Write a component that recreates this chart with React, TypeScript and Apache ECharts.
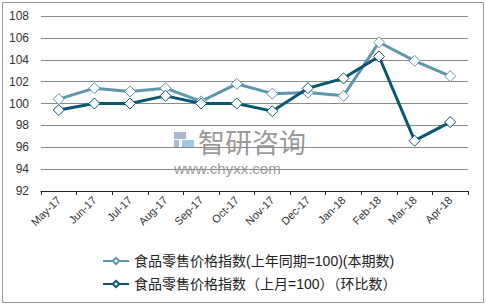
import React, { useEffect, useRef } from "react";
import * as echarts from "echarts";

const categories = ["May-17", "Jun-17", "Jul-17", "Aug-17", "Sep-17", "Oct-17", "Nov-17", "Dec-17", "Jan-18", "Feb-18", "Mar-18", "Apr-18"];
const yoyValues = [100.4, 101.4, 101.1, 101.4, 100.2, 101.8, 100.9, 101.0, 100.7, 105.6, 103.9, 102.5];
const momValues = [99.4, 100.0, 100.0, 100.7, 100.0, 100.0, 99.3, 101.4, 102.3, 104.3, 96.6, 98.3];
const seriesNames = ["食品零售价格指数(上年同期=100)(本期数)", "食品零售价格指数（上月=100）（环比数）"];
const yTicks = { min: 92, max: 108, interval: 2 };

export default function App() {
  const ref = useRef<HTMLDivElement>(null);
  useEffect(() => {
    const chart = echarts.init(ref.current!, null, { renderer: "svg" });
    const font = "'Liberation Sans', Arial, 'Noto Sans CJK SC', sans-serif";
    chart.setOption({
      animation: false,
      backgroundColor: "#ffffff",
      textStyle: { fontFamily: font },
      grid: { left: 41, right: 18, top: 16, bottom: 114 },
      legend: {
        orient: "vertical",
        left: 97,
        top: 249,
        itemGap: 9,
        itemWidth: 26,
        itemHeight: 8,
        textStyle: { fontSize: 14, color: "#222", fontFamily: font },
        data: seriesNames,
      },
      xAxis: {
        type: "category",
        data: categories,
        boundaryGap: true,
        axisLine: { lineStyle: { color: "#222", width: 1 } },
        axisTick: { show: true, inside: false, length: 4, alignWithLabel: false, lineStyle: { color: "#222" } },
        axisLabel: { rotate: 45, fontSize: 11, color: "#333", margin: 7, interval: 0 },
      },
      yAxis: {
        type: "value",
        min: yTicks.min,
        max: yTicks.max,
        interval: yTicks.interval,
        axisLine: { show: false },
        axisTick: { show: false },
        axisLabel: { fontSize: 12, color: "#333", margin: 12 },
        splitLine: { lineStyle: { color: "#8a8a8a", width: 1 } },
      },
      graphic: [
        {
          type: "rect",
          shape: { x: 2.5, y: 2.5, width: 481, height: 300 },
          style: { fill: "none", stroke: "#9a9a9a", lineWidth: 1 },
          silent: true,
        },
        {
          type: "group",
          left: 174,
          top: 128,
          silent: true,
          z: 0,
          children: [
            { type: "rect", shape: { x: 0, y: 3, width: 12, height: 7 }, style: { fill: "#8da2c4", opacity: 0.75 } },
            { type: "rect", shape: { x: 8, y: 11, width: 12, height: 8 }, style: { fill: "#7fb6dd", opacity: 0.75 } },
            { type: "rect", shape: { x: 0, y: 11, width: 5, height: 8 }, style: { fill: "#8da2c4", opacity: 0.75 } },
            {
              type: "text",
              x: 24,
              y: -1,
              style: { text: "智研咨询", fontSize: 27, fill: "rgba(120,120,120,0.75)", fontFamily: "'Noto Sans CJK SC', sans-serif" },
            },
            {
              type: "text",
              x: 0,
              y: 32,
              style: { text: "www.chyxx.com", fontSize: 15, fill: "rgba(120,120,120,0.75)", fontFamily: font },
            },
          ],
        },
      ],
      series: [
        {
          name: seriesNames[0],
          type: "line",
          data: yoyValues,
          symbol: "diamond",
          symbolSize: 11,
          lineStyle: { color: "#5f95ad", width: 3 },
          itemStyle: { color: "#ffffff", borderColor: "#5f95ad", borderWidth: 1 },
          color: "#5f95ad",
          z: 2,
        },
        {
          name: seriesNames[1],
          type: "line",
          data: momValues,
          symbol: "diamond",
          symbolSize: 11,
          lineStyle: { color: "#0b5670", width: 3 },
          itemStyle: { color: "#ffffff", borderColor: "#0b5670", borderWidth: 1 },
          color: "#0b5670",
          z: 3,
        },
      ],
    });
    return () => chart.dispose();
  }, []);
  return <div ref={ref} style={{ position: "absolute", left: 0, top: 0, width: 486, height: 305 }} />;
}
